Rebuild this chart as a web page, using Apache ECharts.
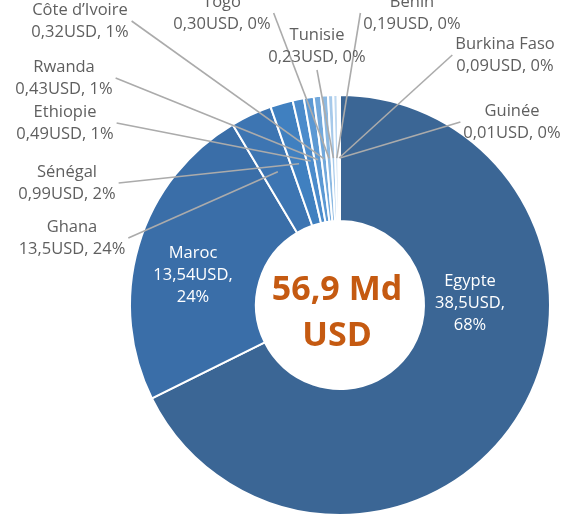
<!DOCTYPE html>
<html>
<head>
<meta charset="utf-8">
<script src="https://cdn.jsdelivr.net/npm/echarts@6/dist/echarts.min.js"></script>
<style>
  html, body { margin: 0; padding: 0; background: #ffffff; }
  #chart { width: 571px; height: 522px; }
</style>
</head>
<body>
<div id="chart"></div>
<script>
// Investment by country (Md USD)
const categories = ['Egypte', 'Maroc', 'Ghana', 'Sénégal', 'Ethiopie', 'Rwanda',
  'Côte d’Ivoire', 'Togo', 'Tunisie', 'Benin', 'Burkina Faso', 'Guinée'];
const values = [38.5, 13.54, 1.81, 0.99, 0.49, 0.43, 0.32, 0.30, 0.23, 0.19, 0.09, 0.01];
const valueLabels = ['38,5', '13,54', '13,5', '0,99', '0,49', '0,43', '0,32', '0,30', '0,23', '0,19', '0,09', '0,01'];
const shareLabels = ['68%', '24%', '24%', '2%', '1%', '1%', '1%', '0%', '0%', '0%', '0%', '0%'];
const totalLabel = '56,9 Md\nUSD';

// styling
const sliceColors = ['#3b6695', '#3a6ea8', '#3d75b2', '#4080c0', '#4b8bcb', '#5b98d3',
  '#72a8db', '#8cb9e2', '#a6c9ea', '#bed8f0', '#d3e4f5', '#e4eef9'];
const FONT = 'Open Sans';
const labelGray = '#5f5f5f';
const lineGray = '#ababab';

// label block centres and the side the leader line attaches to
const labelSpots = [
  [470, 303, 'in'], [193, 275, 'in'],
  [72, 238, 'right'], [67, 183, 'right'], [65, 123, 'right'], [64, 78, 'right'], [80, 21, 'right'],
  [222, 13, 'right'], [317, 46, 'bottom'], [412, 13, 'left'],
  [505, 55, 'left'], [512, 122, 'left']
];

const CENTER = [340, 305];

const ringData = categories.map((name, i) => ({
  name, value: values[i], itemStyle: { color: sliceColors[i] }
}));

const labelData = categories.map((name, i) => ({
  name, value: values[i],
  label: { color: i < 2 ? '#ffffff' : labelGray },
  labelLine: { show: i >= 2 }
}));

const chart = echarts.init(document.getElementById('chart'), null, { renderer: 'canvas' });

chart.setOption({
  backgroundColor: '#ffffff',
  animation: false,
  title: {
    text: totalLabel,
    left: 332,
    top: 262,
    textAlign: 'center',
    textStyle: { fontFamily: FONT, fontSize: 34, fontWeight: 'bold', color: '#c55a11', lineHeight: 46 }
  },
  series: [
    {
      type: 'pie',
      center: CENTER,
      radius: [84, 210],
      startAngle: 90,
      silent: true,
      avoidLabelOverlap: false,
      label: { show: false },
      labelLine: { show: false },
      itemStyle: { borderColor: '#ffffff', borderWidth: 2 },
      data: ringData,
      z: 2
    },
    {
      // invisible companion pie whose mid-ring radius anchors the leader lines
      type: 'pie',
      center: CENTER,
      radius: [0, 147],
      startAngle: 90,
      silent: true,
      avoidLabelOverlap: false,
      itemStyle: { color: 'rgba(0,0,0,0)', borderWidth: 0 },
      emphasis: { disabled: true },
      label: {
        show: true,
        position: 'outside',
        fontFamily: FONT,
        fontSize: 16.5,
        lineHeight: 22,
        color: labelGray,
        formatter: (p) => {
          const i = p.dataIndex;
          if (i < 2) return categories[i] + '\n' + valueLabels[i] + 'USD,\n' + shareLabels[i];
          return categories[i] + '\n' + valueLabels[i] + 'USD, ' + shareLabels[i];
        }
      },
      labelLine: { show: true, length: 5, length2: 5, lineStyle: { color: lineGray, width: 1.6 } },
      labelLayout: (params) => {
        const s = labelSpots[params.dataIndex];
        const out = { x: s[0], y: s[1], align: 'center', verticalAlign: 'middle' };
        if (s[2] !== 'in' && params.labelLinePoints) {
          const w = params.labelRect.width;
          const h = params.labelRect.height;
          let end;
          if (s[2] === 'right') end = [s[0] + w / 2 + 3, s[1]];
          else if (s[2] === 'left') end = [s[0] - w / 2 - 3, s[1]];
          else end = [s[0], s[1] + h / 2 + 2];
          out.labelLinePoints = [params.labelLinePoints[0], end];
        }
        return out;
      },
      data: labelData,
      z: 3
    }
  ]
});
</script>
</body>
</html>
